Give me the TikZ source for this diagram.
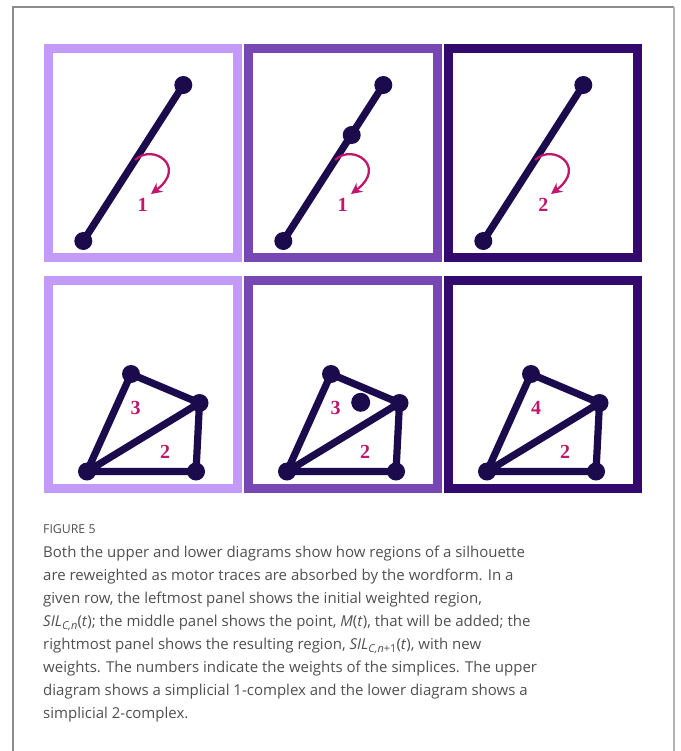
\documentclass[tikz,border=0pt]{standalone}
\usepackage{fontspec}
\setmainfont{Open Sans}
\newfontfamily\numfont{Liberation Serif}
\usetikzlibrary{arrows.meta}
\definecolor{pLight}{HTML}{C49AF8}
\definecolor{pMid}{HTML}{7747B3}
\definecolor{pDark}{HTML}{34096E}
\definecolor{ink}{HTML}{1B0B4D}
\definecolor{wcol}{HTML}{C0166C}
\definecolor{capgray}{HTML}{4F4F4F}
\newcommand{\mysub}[1]{\raisebox{-3pt}{\fontsize{11}{11}\selectfont #1}}
\tikzset{
  panel/.style={line width=8.8pt},
  edge/.style={ink, line width=7.2pt, line cap=round},
  vdot/.style={circle, fill=ink, inner sep=0pt, minimum size=18pt},
  wlabel/.style={wcol, font=\numfont\bfseries\fontsize{20}{20}\selectfont},
  warrow/.style={wcol, line width=2.3pt, -{Stealth[length=11pt,width=11pt]}},
  capline/.style={anchor=base west, inner sep=0pt, capgray, font=\fontsize{15}{17}\selectfont},
}
\begin{document}
\begin{tikzpicture}[x=1pt,y=-1pt]
\useasboundingbox (0,0) rectangle (680,751);
% outer frame
\draw[gray!90, line width=1.3pt] (13,751) -- (13,7) -- (674,7);
\draw[gray!60, line width=1.3pt] (674,7) -- (674,751);

% panels
\foreach \i/\c in {0/pLight,1/pMid,2/pDark}{
  \draw[panel, \c] (48.4+200*\i,48.4) rectangle (237.6+200*\i,257.8);
  \draw[panel, \c] (48.4+200*\i,280.2) rectangle (237.6+200*\i,488.4);
}

% upper row
\foreach \i in {0,1,2}{
  \coordinate (ua\i) at (83.3+200*\i,241);
  \coordinate (ub\i) at (183.3+200*\i,85);
  \coordinate (us\i) at (135.2+200*\i,160);
  \coordinate (ue\i) at (151+200*\i,194);
  \draw[edge] (ua\i) -- (ub\i);
  \node[vdot] (nua\i) at (ua\i) {};
  \node[vdot] (nub\i) at (ub\i) {};
  \draw[warrow] (us\i) .. controls (152+200*\i,143) and (188+200*\i,166) .. (ue\i);
}
\node[vdot] (mid) at (351.7,135) {};
\node[wlabel] (w1) at (142.7,205) {1};
\node[wlabel] (w2) at (342.7,205) {1};
\node[wlabel] (w3) at (543.3,205) {2};

% lower row
\foreach \i in {0,1,2}{
  \coordinate (A\i) at (87+200*\i,471.5);
  \coordinate (B\i) at (196+200*\i,471.5);
  \coordinate (C\i) at (199.5+200*\i,403);
  \coordinate (D\i) at (131+200*\i,374);
  \draw[edge, line join=round] (A\i) -- (D\i) -- (C\i) -- (A\i) -- (B\i) -- (C\i);
  \node[vdot] (nA\i) at (A\i) {};
  \node[vdot] (nB\i) at (B\i) {};
  \node[vdot] (nC\i) at (C\i) {};
  \node[vdot] (nD\i) at (D\i) {};
}
\node[vdot, minimum size=19pt] (M) at (360.7,402.3) {};
\node[wlabel] (t1) at (135.7,408) {3};
\node[wlabel] (b1) at (165,452) {2};
\node[wlabel] (t2) at (335.7,408) {3};
\node[wlabel] (b2) at (365,452) {2};
\node[wlabel] (t3) at (536,408) {4};
\node[wlabel] (b3) at (565,452) {2};

% caption
\node[anchor=base west, inner sep=0pt, capgray, font=\fontsize{12.3}{14}\selectfont] (fig) at (43,533) {FIGURE 5};
\node[capline] (l1) at (43,557) {Both the upper and lower diagrams show how regions of a silhouette};
\node[capline] (l2) at (43,580) {are reweighted as motor traces are absorbed by the wordform. In a};
\node[capline] (l3) at (43,603) {given row, the leftmost panel shows the initial weighted region,};
\node[capline] (l4) at (43,626) {\textit{SIL}\mysub{\textit{C,n}}(\textit{t}); the middle panel shows the point, \textit{M}(\textit{t}), that will be added; the};
\node[capline] (l5) at (43,649) {rightmost panel shows the resulting region, \textit{SIL}\mysub{\textit{C,n}+1}(\textit{t}), with new};
\node[capline] (l6) at (43,672) {weights. The numbers indicate the weights of the simplices. The upper};
\node[capline] (l7) at (43,695) {diagram shows a simplicial 1-complex and the lower diagram shows a};
\node[capline] (l8) at (43,718) {simplicial 2-complex.};
\end{tikzpicture}
\end{document}
